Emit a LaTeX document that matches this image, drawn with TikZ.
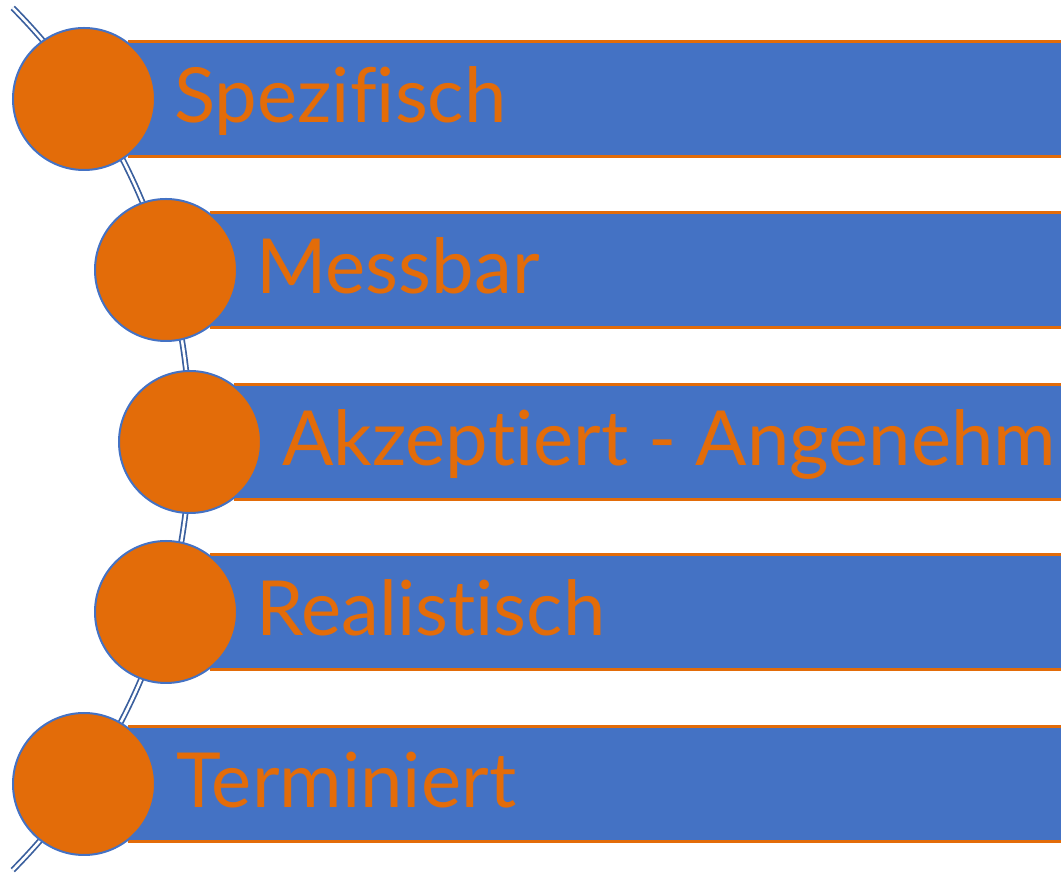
\documentclass[tikz,border=0pt]{standalone}
\usepackage{fontspec}
\setmainfont{Lato}[Ligatures=NoCommon]
\usetikzlibrary{positioning,calc}
\definecolor{colorBar}{HTML}{4472C4}
\definecolor{colorDot}{HTML}{E36C09}
\definecolor{colorArc}{HTML}{3A5F9E}
\tikzset{
   every path/.style={>=stealth},
   dot/.style={circle,minimum size=106.5pt,inner sep=0,fill=colorDot,draw=colorBar,line width=1.5pt},
   bar/.style={rectangle,minimum height=86.25pt,inner sep=0,fill=colorBar},
   rim/.style={-,color=colorDot,line width=2.2pt},
   arcline/.style={color=colorArc,line width=1.3pt,double=white,double distance=1.9pt},
   lab/.style={anchor=base west,inner sep=0,text=colorDot,font=\fontsize{57}{63}\selectfont},
}

\begin{document}
\begin{tikzpicture}[x=0.75pt,y=0.75pt]
    \useasboundingbox (0,0) rectangle (1061,875);

    \draw[arcline] ($(-423,436)+(44.7:613)$) arc (44.7:-44.7:613);

    \node[bar,minimum width=700pt,anchor=west] (bara) at (128,776) {};
    \node[bar,minimum width=640pt,anchor=west] (barb) at (210,605) {};
    \node[bar,minimum width=622pt,anchor=west] (barc) at (234,433) {};
    \node[bar,minimum width=640pt,anchor=west] (bard) at (210,263) {};
    \node[bar,minimum width=700pt,anchor=west] (bare) at (128,91) {};

    \draw[rim] (bara.north west) -- (bara.north east);
    \draw[rim] (bara.south west) -- (bara.south east);
    \draw[rim] (barb.north west) -- (barb.north east);
    \draw[rim] (barb.south west) -- (barb.south east);
    \draw[rim] (barc.north west) -- (barc.north east);
    \draw[rim] (barc.south west) -- (barc.south east);
    \draw[rim] (bard.north west) -- (bard.north east);
    \draw[rim] (bard.south west) -- (bard.south east);
    \draw[rim] (bare.north west) -- (bare.north east);
    \draw[rim] (bare.south west) -- (bare.south east);

    \node[dot] (dota) at (84,776) {};
    \node[dot] (dotb) at (166,605) {};
    \node[dot] (dotc) at (190,433) {};
    \node[dot] (dotd) at (166,263) {};
    \node[dot] (dote) at (84,91) {};

    \node[lab] (laba) at (174,752) {Spezifisch};
    \node[lab] (labb) at (256,581) {Messbar};
    \node[lab] (labc) at (282,409) {Akzeptiert - Angenehm};
    \node[lab] (labd) at (256,239) {Realistisch};
    \node[lab] (labe) at (176,67) {Terminiert};

\end{tikzpicture}
\end{document}
